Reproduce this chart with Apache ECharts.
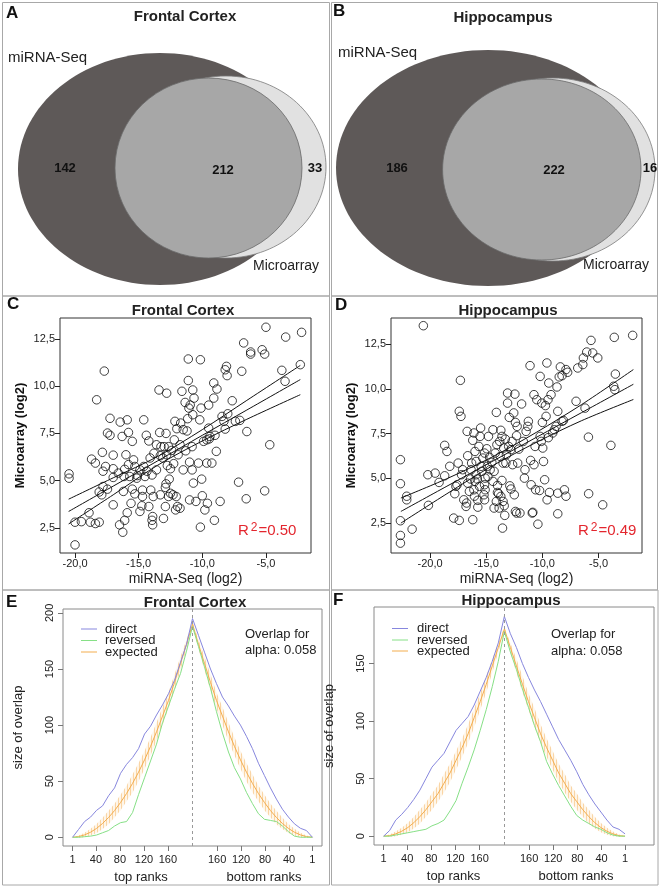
<!DOCTYPE html>
<html><head><meta charset="utf-8">
<script src="https://cdn.jsdelivr.net/npm/echarts@6/dist/echarts.min.js"></script>
<style>html,body{margin:0;padding:0;background:#fff}#c{width:662px;height:888px}</style>
</head><body><div id="c"></div>
<script>
// ---------------- DATA ----------------
const vennLabels = ['miRNA-Seq', 'Microarray'];
const fcVennCounts = [142, 212, 33];   // seq only, both, array only
const hcVennCounts = [186, 222, 16];

const seqTicks = [-20, -15, -10, -5];
const arrayTicks = [2.5, 5, 7.5, 10, 12.5];

const fcScatter = [[-20.47,5.36],[-20.47,5.13],[-20.0,1.6],[-20.0,2.8],[-19.5,2.83],[-18.9,3.3],[-18.8,2.8],[-18.4,2.73],[-18.1,2.8],[-18.7,6.14],[-18.4,5.93],[-18.3,9.28],[-18.1,4.4],[-17.9,4.25],[-17.8,4.69],[-17.7,10.8],[-17.85,6.5],[-17.8,5.5],[-17.6,5.75],[-17.45,4.55],[-17.45,7.52],[-17.25,7.4],[-17.25,8.3],[-17.0,6.35],[-17.0,5.63],[-17.0,5.17],[-17.0,3.72],[-16.6,5.4],[-16.5,2.66],[-16.45,8.1],[-16.3,7.34],[-16.25,2.27],[-16.2,4.43],[-16.15,5.22],[-16.1,5.6],[-16.1,2.9],[-16.0,6.37],[-15.9,3.3],[-15.9,8.22],[-15.8,7.55],[-15.8,5.85],[-15.7,5.22],[-15.6,3.8],[-15.5,7.08],[-15.5,4.55],[-15.4,6.1],[-15.3,4.3],[-15.3,5.75],[-15.15,5.13],[-15.1,5.27],[-14.9,3.37],[-14.9,5.57],[-14.75,3.67],[-14.7,4.5],[-14.7,4.16],[-14.6,8.22],[-14.6,5.75],[-14.5,5.22],[-14.4,7.4],[-14.35,5.5],[-14.2,7.1],[-14.2,3.63],[-14.1,6.2],[-14.05,4.5],[-13.95,5.3],[-13.95,2.9],[-13.9,2.66],[-13.9,3.1],[-13.85,4.16],[-13.8,6.45],[-13.6,5.57],[-13.6,6.9],[-13.4,9.8],[-13.35,7.55],[-13.3,6.32],[-13.3,4.25],[-13.25,6.8],[-13.1,6.2],[-13.05,3.0],[-13.0,6.8],[-12.9,3.63],[-12.9,4.64],[-12.85,7.5],[-12.85,4.83],[-12.8,9.63],[-12.8,6.37],[-12.75,5.8],[-12.65,6.8],[-12.65,4.16],[-12.6,5.08],[-12.5,5.63],[-12.5,4.33],[-12.4,6.6],[-12.3,4.25],[-12.25,5.9],[-12.2,7.16],[-12.15,8.14],[-12.1,3.45],[-12.05,4.16],[-12.0,7.75],[-11.95,3.63],[-11.9,6.37],[-11.75,6.9],[-11.75,3.54],[-11.7,8.05],[-11.6,9.73],[-11.5,7.7],[-11.5,5.57],[-11.35,9.14],[-11.3,6.58],[-11.2,7.63],[-11.15,8.28],[-11.1,11.44],[-11.1,10.3],[-11.05,8.84],[-11.0,5.98],[-10.95,9.0],[-11.0,3.98],[-10.8,5.57],[-10.8,6.8],[-10.75,8.49],[-10.75,9.8],[-10.7,4.87],[-10.65,9.37],[-10.5,3.9],[-10.3,5.93],[-10.2,8.22],[-10.15,11.4],[-10.15,2.54],[-10.1,8.84],[-10.05,5.08],[-10.0,4.2],[-9.9,7.08],[-9.8,3.45],[-9.65,7.16],[-9.65,5.93],[-9.6,3.8],[-9.5,9.0],[-9.5,7.78],[-9.45,7.21],[-9.4,7.34],[-9.25,5.93],[-9.1,9.37],[-9.1,10.17],[-9.05,2.9],[-9.0,7.4],[-8.9,6.55],[-8.85,9.85],[-8.6,3.9],[-8.45,8.4],[-8.3,8.14],[-8.2,7.73],[-8.2,10.87],[-8.1,11.05],[-8.05,10.56],[-8.0,8.54],[-7.65,9.23],[-7.4,8.14],[-7.15,4.92],[-7.05,8.19],[-6.9,10.79],[-6.75,12.29],[-6.55,4.04],[-6.5,7.6],[-6.2,11.81],[-6.2,11.7],[-5.3,11.93],[-5.1,11.7],[-5.1,4.46],[-4.7,6.9],[-3.75,10.84],[-3.5,10.26],[-3.45,12.6],[-5.0,13.12],[-2.3,11.14],[-2.2,12.85]];

const hcScatter = [[-20.6,13.52],[-22.64,6.04],[-22.64,4.7],[-22.64,2.63],[-22.64,1.81],[-22.64,1.38],[-22.08,4.0],[-22.08,3.8],[-21.6,2.16],[-20.2,5.2],[-20.15,3.49],[-19.55,5.29],[-19.2,4.77],[-18.7,6.84],[-18.5,6.5],[-18.7,5.14],[-18.25,5.67],[-17.9,2.78],[-17.8,4.14],[-17.7,4.55],[-17.6,4.64],[-17.5,5.85],[-17.4,2.65],[-17.3,10.47],[-17.4,8.74],[-17.25,8.46],[-17.2,5.2],[-17.1,5.48],[-17.0,3.8],[-16.8,3.43],[-16.75,3.62],[-16.7,7.62],[-16.65,4.73],[-16.65,6.26],[-16.5,4.27],[-16.4,4.96],[-16.35,5.48],[-16.3,5.85],[-16.2,2.69],[-16.2,7.12],[-16.1,7.53],[-16.1,4.36],[-16.05,4.0],[-16.0,6.5],[-16.0,4.83],[-15.9,5.2],[-15.9,5.94],[-15.8,4.96],[-15.75,3.77],[-15.75,3.39],[-15.65,6.78],[-15.6,4.55],[-15.55,7.34],[-15.5,7.81],[-15.45,5.67],[-15.4,5.39],[-15.3,6.13],[-15.2,4.08],[-15.15,6.41],[-15.15,3.8],[-15.15,4.64],[-15.1,4.36],[-15.1,5.01],[-14.95,6.65],[-14.9,5.67],[-14.85,5.1],[-14.8,7.34],[-14.7,6.17],[-14.65,5.48],[-14.5,5.89],[-14.4,7.71],[-14.4,4.83],[-14.3,3.34],[-14.3,5.39],[-14.2,6.41],[-14.1,3.71],[-14.1,8.68],[-14.05,6.88],[-14.0,4.21],[-14.0,4.6],[-13.9,4.14],[-13.85,3.34],[-13.8,7.06],[-13.75,6.22],[-13.7,7.68],[-13.7,3.99],[-13.6,4.88],[-13.6,7.34],[-13.55,2.22],[-13.5,3.71],[-13.5,5.85],[-13.45,6.69],[-13.4,3.47],[-13.35,2.93],[-13.3,7.19],[-13.25,5.85],[-13.2,6.32],[-13.1,9.76],[-13.1,9.2],[-13.0,6.78],[-12.95,8.4],[-12.9,4.58],[-12.8,6.6],[-12.8,4.4],[-12.7,7.06],[-12.65,5.76],[-12.55,8.65],[-12.5,4.08],[-12.45,9.7],[-12.4,3.15],[-12.4,8.12],[-12.3,7.38],[-12.3,3.06],[-12.25,7.9],[-12.2,5.85],[-12.1,6.63],[-12.0,3.06],[-11.85,9.15],[-11.7,7.06],[-11.6,5.01],[-11.55,5.48],[-11.45,7.62],[-11.3,7.9],[-11.25,8.18],[-11.1,11.29],[-11.05,6.0],[-11.0,4.64],[-10.9,3.06],[-10.85,3.1],[-10.75,5.76],[-10.75,9.67],[-10.65,6.78],[-10.6,4.36],[-10.5,9.39],[-10.4,2.44],[-10.25,4.32],[-10.2,10.69],[-10.2,7.34],[-10.1,7.06],[-10.05,9.2],[-10.0,8.12],[-9.97,6.69],[-9.9,5.94],[-9.8,4.92],[-9.73,9.06],[-9.67,8.46],[-9.6,11.44],[-9.58,3.8],[-9.5,9.39],[-9.47,7.27],[-9.43,10.32],[-9.37,4.21],[-9.23,9.67],[-9.08,7.53],[-8.93,7.71],[-8.78,7.9],[-8.7,10.1],[-8.63,8.74],[-8.63,4.17],[-8.63,3.02],[-8.5,10.66],[-8.4,11.22],[-8.25,10.73],[-8.25,8.18],[-8.13,8.23],[-8.04,4.36],[-7.9,4.0],[-7.75,10.92],[-7.9,11.07],[-6.85,11.16],[-7.0,9.3],[-6.4,11.35],[-6.35,11.72],[-6.05,12.05],[-6.2,8.92],[-5.9,7.3],[-5.88,4.14],[-5.67,12.7],[-5.52,12.0],[-5.07,11.72],[-4.63,3.52],[-3.9,6.84],[-3.6,12.87],[-3.65,10.14],[-3.55,9.95],[-3.5,10.82],[-1.96,12.98]];

const fcFitX     = [-20.5, -17, -13.5, -10, -6.5, -2.3];
const fcFitMean  = [3.37, 4.71, 6.05, 7.40, 8.74, 10.35];
const fcFitUpper = [4.02, 5.15, 6.28, 7.70, 9.25, 11.10];
const fcFitLower = [2.71, 4.25, 5.82, 7.10, 8.25, 9.55];
const hcFitX     = [-22.6, -18.5, -14.5, -10.5, -6.5, -1.9];
const hcFitMean  = [3.15, 4.56, 5.93, 7.30, 8.67, 10.25];
const hcFitUpper = [3.90, 4.98, 6.18, 7.58, 9.12, 11.07];
const hcFitLower = [2.50, 4.14, 5.68, 7.02, 8.22, 9.40];
const fcR2 = '0.50';
const hcR2 = '0.49';

// rank-rank overlap: position along the x axis (1..201 = top ranks, 201..401 = bottom ranks)
const rankPos = [1,11,21,31,41,51,61,71,81,91,101,111,121,131,141,151,161,171,181,191,201,211,221,231,241,251,261,271,281,291,301,311,321,331,341,351,361,371,381,391,401];
const rankTicks = [1, 40, 80, 120, 160];
const overlapTicks = [0, 50, 100, 150, 200];
const alphaValue = '0.058';

const fcDirect   = [0,7,14,18,24,28,37,44,57,65,71,79,92,99,109,118,128,140,156,172,195,180,165,150,137,125,117,108,100,90,79,66,55,44,34,25,18,12,8,6,0];
const fcReversed = [0,0,0.5,1,2,4,6,10,13,14,22,38,53,68,83,102,117,132,146,166,188,170,152,133,112,93,76,62,52,40,30,21,16,15,14,10,5,1,0,0,0];
const fcExpected = [0,0.6,2.1,4.5,7.9,12.3,17.6,23.8,31,39,48,58,69,81,94,108,122,138,155,172,190,172,155,138,122,108,94,81,69,58,48,39,31,23.8,17.6,12.3,7.9,4.5,2.1,0.6,0];
const fcExpErr   = [0,1,2,3,4,5,6,6,7,7,8,8,8,8,8,8,7,7,6,4,2,4,6,7,7,8,8,8,8,8,8,7,7,6,6,5,4,3,2,1,0];

const hcDirect   = [0,5,14,19,25,32,40,50,60,66,72,82,92,98,104,114,126,138,152,168,191,176,164,150,138,127,117,106,95,84,75,66,56,45,36,28,21,14,8,6,2];
const hcReversed = [0,0,1,2,3,4,5,6,9,11,14,22,31,46,60,75,92,110,130,152,178,160,145,128,112,96,82,65,54,44,35,26,18,14,11,8,6,3,1,0,0];
const hcExpected = [0,0.5,2,4.3,7.5,11.7,17,23,30,37,46,55,66,77,89,103,117,132,148,164,180,164,148,132,117,103,89,77,66,55,46,37,30,23,17,11.7,7.5,4.3,2,0.5,0];
const hcExpErr   = [0,1,2,3,4,5,6,6,7,7,8,8,8,8,8,8,7,7,6,4,2,4,6,7,7,8,8,8,8,8,8,7,7,6,6,5,4,3,2,1,0];

// ---------------- CHART ----------------
const FONT = '"Liberation Sans", Arial, Helvetica, sans-serif';
const CENTER = 201;
const chart = echarts.init(document.getElementById('c'), null, {renderer: 'canvas', width: 662, height: 888});
const comma = v => v.toFixed(1).replace('.', ',');
const pairs = (xs, ys) => xs.map((x, i) => [x, ys[i]]);

const COL_DIRECT = '#8787de', COL_REV = '#86e086', COL_EXP = '#f3ad4e';

const hatch = document.createElement('canvas');
hatch.width = 3; hatch.height = 4;
(function(){ const c = hatch.getContext('2d'); c.fillStyle = 'rgba(245,180,95,0.5)'; c.fillRect(1,0,1,4); })();

function scatterX(gi, min, max) {
  return {gridIndex: gi, type: 'value', min, max, splitLine: {show: false},
    axisLine: {show: false, onZero: false},
    axisTick: {show: true, inside: false, length: 5, customValues: seqTicks, lineStyle: {color: '#222'}},
    axisLabel: {customValues: seqTicks, formatter: comma, fontSize: 11, color: '#222', fontFamily: FONT, margin: 5},
    name: 'miRNA-Seq (log2)', nameLocation: 'middle', nameGap: 19,
    nameTextStyle: {fontSize: 14, color: '#222', fontFamily: FONT}};
}
function scatterY(gi, min, max) {
  return {gridIndex: gi, type: 'value', min, max, splitLine: {show: false},
    axisLine: {show: false, onZero: false},
    axisTick: {show: true, inside: false, length: 5, customValues: arrayTicks, lineStyle: {color: '#222'}},
    axisLabel: {customValues: arrayTicks, formatter: comma, fontSize: 11, color: '#222', fontFamily: FONT, margin: 5},
    name: 'Microarray (log2)', nameLocation: 'middle', nameGap: 33, nameRotate: 90,
    nameTextStyle: {fontSize: 13, fontWeight: 'bold', color: '#111', fontFamily: FONT}};
}
const rankTickPos = rankTicks.concat(rankTicks.slice().reverse().map(r => 2 * CENTER - r));
function rankX(gi, min, max) {
  return {gridIndex: gi, type: 'value', min, max, splitLine: {show: false},
    axisLine: {show: false, onZero: false},
    axisTick: {show: true, inside: false, length: 5, customValues: rankTickPos, lineStyle: {color: '#777'}},
    axisLabel: {customValues: rankTickPos, formatter: v => v <= CENTER ? String(v) : String(2 * CENTER - v),
      fontSize: 11, color: '#222', fontFamily: FONT, margin: 8}};
}
function rankY(gi, min, max, ticks) {
  return {gridIndex: gi, type: 'value', min, max, splitLine: {show: false},
    axisLine: {show: false, onZero: false},
    axisTick: {show: true, inside: false, length: 5, customValues: ticks, lineStyle: {color: '#777'}},
    axisLabel: {customValues: ticks, rotate: 90, fontSize: 11, color: '#222', fontFamily: FONT, margin: 8},
    name: 'size of overlap', nameLocation: 'middle', nameGap: 38, nameRotate: 90,
    nameTextStyle: {fontSize: 13, color: '#222', fontFamily: FONT}};
}

function scatterSeries(gi, data) {
  return {type: 'scatter', xAxisIndex: gi, yAxisIndex: gi, data, symbol: 'circle', symbolSize: 8.5,
    itemStyle: {color: 'rgba(255,255,255,0)', borderColor: '#111', borderWidth: 1}, z: 3, silent: true};
}
function fitSeries(gi, xs, ys) {
  return {type: 'line', xAxisIndex: gi, yAxisIndex: gi, data: pairs(xs, ys), smooth: 0.3, showSymbol: false,
    lineStyle: {color: '#111', width: 1}, z: 4, silent: true};
}
function curve(gi, ys, color, name, z) {
  return {type: 'line', name, xAxisIndex: gi, yAxisIndex: gi, data: pairs(rankPos, ys), showSymbol: false,
    lineStyle: {color, width: 1}, z, silent: true};
}
function band(gi, mean, err) {
  return {type: 'custom', xAxisIndex: gi, yAxisIndex: gi, silent: true, z: 1,
    data: rankPos.map((p, i) => [p, mean[i], err[i]]),
    renderItem(params, api) {
      const i = params.dataIndex;
      const a0 = api.coord([rankPos[i], mean[i] - err[i]]), a1 = api.coord([rankPos[i], mean[i] + err[i]]);
      const kids = [];
      if (i < rankPos.length - 1) {
        const b0 = api.coord([rankPos[i + 1], mean[i + 1] - err[i + 1]]), b1 = api.coord([rankPos[i + 1], mean[i + 1] + err[i + 1]]);
        kids.push({type: 'polygon', shape: {points: [a0, b0, b1, a1]}, style: {fill: 'rgba(250,215,160,0.22)'}});
        kids.push({type: 'polygon', shape: {points: [a0, b0, b1, a1]}, style: {fill: {image: hatch, repeat: 'repeat'}}});
      }
      return {type: 'group', children: kids};
    }};
}
function centerLine(gi) {
  return {type: 'line', xAxisIndex: gi, yAxisIndex: gi, data: [], silent: true,
    markLine: {symbol: 'none', silent: true, label: {show: false}, animation: false,
      lineStyle: {color: '#999', type: [3, 3], width: 1}, data: [{xAxis: CENTER}]}};
}

// ---- graphic helpers ----
const G = [];
const txt = (text, x, y, size, opts = {}) => G.push({type: 'text', x, y, silent: true, z: 20,
  style: {text, fill: opts.color || '#111', font: (opts.bold ? 'bold ' : '') + size + 'px ' + FONT,
    textAlign: opts.align || 'left', textVerticalAlign: 'middle'}});
const border = (x, y, w, h) => G.push({type: 'rect', silent: true, z: 0,
  shape: {x, y, width: w, height: h}, style: {fill: 'none', stroke: '#a8a8a8', lineWidth: 1}});
const ell = (cx, cy, rx, ry, fill, stroke) => G.push({type: 'ellipse', silent: true, z: 1,
  shape: {cx, cy, rx, ry}, style: {fill, stroke: stroke || 'none', lineWidth: 0.8}});

// panel borders
border(2.5, 2.5, 327, 293.5); border(331.5, 2.5, 326, 293.5);
border(2.5, 296, 327, 294);   border(331.5, 296, 326, 294);
border(2.5, 590, 327, 295);   border(331.5, 590, 326.5, 295);

// Venn A
ell(160, 169, 142, 116, '#5e5958');
ell(226, 167, 100, 91, '#e1e1e1', '#7a7a7a');
ell(208.5, 168, 93.5, 90, '#a7a7a7', '#6a6a6a');
txt('A', 6, 13, 17, {bold: true});
txt('Frontal Cortex', 185, 17, 15, {bold: true, align: 'center', color: '#222'});
txt(vennLabels[0], 8, 58, 15, {color: '#222'});
txt(vennLabels[1], 253, 266, 14, {color: '#222'});
txt(String(fcVennCounts[0]), 65, 168, 13, {bold: true, align: 'center'});
txt(String(fcVennCounts[1]), 223, 170, 13, {bold: true, align: 'center'});
txt(String(fcVennCounts[2]), 315, 168, 13, {bold: true, align: 'center'});
// Venn B
ell(488, 168, 152, 118, '#5e5958');
ell(553, 169.5, 102, 91.5, '#e1e1e1', '#7a7a7a');
ell(541.8, 169.5, 99.2, 90.5, '#a7a7a7', '#6a6a6a');
txt('B', 333, 11, 17, {bold: true});
txt('Hippocampus', 503, 18, 15, {bold: true, align: 'center', color: '#222'});
txt(vennLabels[0], 338, 53, 15, {color: '#222'});
txt(vennLabels[1], 583, 265, 14, {color: '#222'});
txt(String(hcVennCounts[0]), 397, 168, 13, {bold: true, align: 'center'});
txt(String(hcVennCounts[1]), 554, 170, 13, {bold: true, align: 'center'});
txt(String(hcVennCounts[2]), 650, 168, 13, {bold: true, align: 'center'});

// C / D titles
txt('C', 7, 304, 17, {bold: true});
txt('Frontal Cortex', 183, 311, 15, {bold: true, align: 'center', color: '#222'});
txt('D', 335, 305, 17, {bold: true});
txt('Hippocampus', 508, 311, 15, {bold: true, align: 'center', color: '#222'});
const r2 = (val, x, y) => G.push({type: 'text', x, y, silent: true, z: 20,
  style: {text: '{a|R}{b|2}{a|=' + val + '}', textVerticalAlign: 'middle',
    rich: {a: {fill: '#e3262e', font: '15px ' + FONT, fontSize: 15, fontFamily: FONT},
           b: {fill: '#e3262e', font: '12px ' + FONT, fontSize: 12, fontFamily: FONT, verticalAlign: 'top', padding: [0, 1, 6, 2]}}}});
r2(fcR2, 238, 531);
r2(hcR2, 578, 531);

// E / F
txt('E', 6, 602, 17, {bold: true});
txt('Frontal Cortex', 195, 603, 15, {bold: true, align: 'center', color: '#222'});
txt('F', 333, 600, 17, {bold: true});
txt('Hippocampus', 511, 601, 15, {bold: true, align: 'center', color: '#222'});
function legend(x0, ys, tx) {
  const items = [['direct', COL_DIRECT], ['reversed', COL_REV], ['expected', COL_EXP]];
  items.forEach((it, i) => {
    G.push({type: 'line', silent: true, z: 20, shape: {x1: x0, y1: ys[i], x2: x0 + 16, y2: ys[i]}, style: {stroke: it[1], lineWidth: 1}});
    txt(it[0], tx, ys[i], 13, {color: '#222'});
  });
}
legend(81, [629, 640.5, 652], 105);
legend(392, [628.5, 640, 651], 417);
txt('Overlap for', 245, 634, 13, {color: '#222'});
txt('alpha: ' + alphaValue, 245, 650, 13, {color: '#222'});
txt('Overlap for', 551, 634, 13, {color: '#222'});
txt('alpha: ' + alphaValue, 551, 651, 13, {color: '#222'});
txt('top ranks', 141, 877, 13, {align: 'center', color: '#222'});
txt('bottom ranks', 264, 877, 13, {align: 'center', color: '#222'});
txt('top ranks', 453.5, 876, 13, {align: 'center', color: '#222'});
txt('bottom ranks', 576, 876, 13, {align: 'center', color: '#222'});

const option = {
  animation: false,
  backgroundColor: '#fff',
  textStyle: {fontFamily: FONT},
  grid: [
    {left: 60, top: 318, width: 251, height: 235, show: true, borderColor: '#333', borderWidth: 1, backgroundColor: 'rgba(0,0,0,0)'},
    {left: 391, top: 318, width: 251, height: 235, show: true, borderColor: '#333', borderWidth: 1, backgroundColor: 'rgba(0,0,0,0)'},
    {left: 63, top: 609, width: 259, height: 237, show: true, borderColor: '#8a8a8a', borderWidth: 1, backgroundColor: 'rgba(0,0,0,0)'},
    {left: 374, top: 607, width: 280, height: 238, show: true, borderColor: '#8a8a8a', borderWidth: 1, backgroundColor: 'rgba(0,0,0,0)'}
  ],
  xAxis: [scatterX(0, -21.18, -1.46), scatterX(1, -23.48, -1.13), rankX(2, -15, 417), rankX(3, -15, 449)],
  yAxis: [scatterY(0, 1.17, 13.61), scatterY(1, 0.83, 13.95),
          rankY(2, -7.8, 203.5, overlapTicks), rankY(3, -7.66, 199.2, overlapTicks.slice(0, 4))],
  series: [
    scatterSeries(0, fcScatter),
    fitSeries(0, fcFitX, fcFitMean), fitSeries(0, fcFitX, fcFitUpper), fitSeries(0, fcFitX, fcFitLower),
    scatterSeries(1, hcScatter),
    fitSeries(1, hcFitX, hcFitMean), fitSeries(1, hcFitX, hcFitUpper), fitSeries(1, hcFitX, hcFitLower),
    band(2, fcExpected, fcExpErr), centerLine(2),
    curve(2, fcExpected, COL_EXP, 'expected', 2), curve(2, fcReversed, COL_REV, 'reversed', 3), curve(2, fcDirect, COL_DIRECT, 'direct', 3),
    band(3, hcExpected, hcExpErr), centerLine(3),
    curve(3, hcExpected, COL_EXP, 'expected', 2), curve(3, hcReversed, COL_REV, 'reversed', 3), curve(3, hcDirect, COL_DIRECT, 'direct', 3)
  ],
  graphic: G
};
chart.setOption(option);
</script>
</body></html>
